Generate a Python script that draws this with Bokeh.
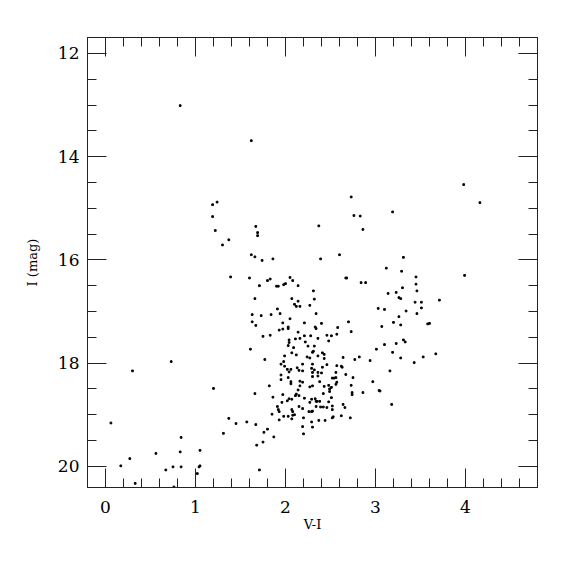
from bokeh.plotting import figure
from bokeh.models import Range1d, LinearAxis, SingleIntervalTicker, ColumnDataSource
from bokeh.embed import file_html
from bokeh.resources import INLINE

# V-I colour and I magnitude of each star
v_i = [
    0.83, 1.62,
    1.19, 1.24, 1.19, 1.22,
    3.98, 4.16, 2.73, 2.76, 2.83, 3.19, 2.37, 2.86, 2.39, 2.60, 3.31, 3.99, 3.12, 3.29,
    3.45, 2.67, 2.68, 2.84, 2.89, 3.45, 2.31, 3.30, 3.46, 2.32, 2.27, 3.14, 3.23, 3.26,
    3.28, 3.71, 3.44, 3.51, 3.51, 3.03, 3.10, 2.34, 3.34, 3.46, 3.26,
    2.21, 2.33, 2.34, 2.40, 2.58, 2.70, 3.07, 3.20, 3.28, 3.58, 3.60, 2.21, 2.28, 2.36,
    2.46, 2.51, 2.57, 2.48, 2.73, 2.22, 2.25, 2.32, 2.30, 2.31, 2.36, 2.41, 2.43, 2.43,
    2.24, 2.27, 2.19, 2.30, 2.46, 2.64, 2.77, 2.82, 2.94, 3.01, 3.10, 3.19, 3.23, 3.28,
    3.31, 3.33, 3.43, 3.53, 3.67, 3.18,
    1.67, 1.69, 1.69, 1.37, 1.30, 1.62, 1.66, 1.74, 1.86, 1.39, 1.60, 1.71, 1.80, 1.83,
    1.90, 1.92, 1.98, 2.00, 2.05, 2.08, 2.14, 1.66, 2.07,
    2.14, 2.10, 2.12, 2.16, 1.91, 1.94, 1.63, 1.73, 1.84, 2.05, 1.63, 1.67, 1.97, 2.03,
    2.03, 1.97, 1.93, 2.14, 1.75, 1.83, 2.04, 2.11, 2.16, 2.04, 2.03, 2.09, 1.61, 2.07,
    2.12, 1.99, 1.77, 1.98, 1.95,
    1.99, 2.02, 2.06, 2.13, 2.15, 2.04, 1.95, 2.03, 1.95, 2.06, 2.06, 2.16, 1.82, 2.14,
    1.66, 1.97, 2.12, 2.15, 2.11, 1.86, 2.04, 2.07, 2.02, 1.96, 2.15, 1.91, 1.92, 1.93,
    2.07, 2.08, 1.85, 1.98, 2.03, 2.08, 2.10, 2.07, 1.93, 1.37, 1.45, 1.57, 1.67, 1.31,
    1.80, 1.76, 1.87, 1.75,
    2.19, 2.29, 2.32, 2.30, 2.36, 2.40, 2.41, 2.56, 2.57, 2.62, 2.63, 2.67, 2.75, 2.30,
    2.36, 2.52, 2.54, 2.56, 2.16, 2.19, 2.38, 2.57, 2.56, 2.97, 3.04, 3.05, 2.43, 2.27,
    2.30, 2.48, 2.51, 2.73, 2.49, 2.49, 2.42, 2.74, 2.74, 2.86, 3.16, 2.21, 2.27, 2.29,
    2.33, 2.34, 2.35, 2.38, 2.51, 2.48, 2.64, 2.66, 2.19, 2.34, 2.39, 2.42, 2.46, 2.52,
    2.52, 2.26, 2.29, 2.30, 2.62, 2.72, 2.53, 2.52, 2.44, 2.37, 2.29, 2.20, 2.30, 2.19,
    2.20,
    0.73, 0.30, 0.06, 1.20, 0.84, 0.56, 0.83, 0.17, 0.27, 0.75, 0.84, 0.67, 0.33, 0.76,
    1.04, 1.05, 1.02, 1.05, 1.68, 1.71,
]
i_mag = [
    13.01, 13.69,
    14.93, 14.88, 15.16, 15.43,
    14.54, 14.89, 14.78, 15.14, 15.15, 15.07, 15.34, 15.41, 15.98, 15.90, 15.95, 16.30, 16.16, 16.22,
    16.33, 16.35, 16.35, 16.44, 16.44, 16.47, 16.60, 16.54, 16.60, 16.76, 16.88, 16.65, 16.63, 16.73,
    16.75, 16.78, 16.82, 16.82, 16.93, 16.94, 16.96, 17.04, 16.99, 17.04, 17.10,
    17.22, 17.30, 17.33, 17.23, 17.31, 17.20, 17.29, 17.21, 17.26, 17.24, 17.23, 17.47, 17.47, 17.52,
    17.46, 17.47, 17.44, 17.57, 17.39, 17.59, 17.67, 17.67, 17.79, 17.77, 17.86, 17.80, 17.83, 17.91,
    17.88, 17.90, 18.02, 18.02, 18.03, 17.89, 17.93, 17.88, 17.95, 17.73, 17.64, 17.79, 17.62, 17.90,
    17.55, 17.59, 17.99, 17.88, 17.82, 18.80,
    15.35, 15.47, 15.53, 15.61, 15.71, 15.90, 15.94, 16.01, 15.98, 16.33, 16.35, 16.50, 16.40, 16.37,
    16.51, 16.51, 16.48, 16.46, 16.34, 16.40, 16.50, 16.75, 16.75,
    16.80, 16.86, 16.90, 16.90, 16.95, 17.04, 17.06, 17.08, 17.06, 17.14, 17.20, 17.27, 17.22, 17.30,
    17.33, 17.34, 17.36, 17.40, 17.48, 17.46, 17.55, 17.53, 17.52, 17.60, 17.66, 17.70, 17.73, 17.80,
    17.84, 17.86, 17.93, 17.97, 18.02,
    18.06, 18.12, 18.12, 18.09, 18.14, 18.17, 18.23, 18.28, 18.32, 18.36, 18.40, 18.44, 18.44, 18.52,
    18.59, 18.61, 18.60, 18.63, 18.63, 18.66, 18.69, 18.70, 18.73, 18.76, 18.84, 18.84, 18.90, 18.94,
    18.90, 18.94, 18.99, 19.03, 19.03, 19.01, 19.00, 19.08, 19.10, 19.07, 19.17, 19.14, 19.19, 19.36,
    19.28, 19.34, 19.43, 19.53,
    18.15, 18.10, 18.13, 18.18, 18.18, 18.19, 18.08, 18.18, 18.05, 18.06, 18.08, 18.22, 18.28, 18.26,
    18.25, 18.29, 18.29, 18.28, 18.35, 18.37, 18.36, 18.37, 18.41, 18.36, 18.53, 18.54, 18.45, 18.46,
    18.44, 18.43, 18.47, 18.43, 18.50, 18.55, 18.59, 18.57, 18.61, 18.57, 18.15, 18.68, 18.76, 18.70,
    18.69, 18.74, 18.74, 18.74, 18.67, 18.75, 18.80, 18.86, 18.88, 18.84, 18.85, 18.85, 18.86, 18.83,
    18.90, 18.94, 18.94, 18.93, 19.02, 19.06, 19.04, 19.06, 19.11, 19.11, 19.14, 19.06, 19.24, 19.23,
    19.37,
    17.97, 18.15, 19.16, 18.49, 19.44, 19.75, 19.72, 19.99, 19.85, 20.01, 20.01, 20.07, 20.33, 20.40,
    20.01, 19.99, 20.14, 19.69, 19.59, 20.07,
]

x_label = "V-I"
y_label = "I (mag)"

FONT = "DejaVu Serif"
INK = "#222222"

src = ColumnDataSource(dict(x=v_i, y=i_mag))

p = figure(
    frame_width=450, frame_height=450,
    x_range=Range1d(-0.2, 4.8), y_range=Range1d(20.41, 11.69),
    output_backend="svg", toolbar_location=None,
    min_border_left=87, min_border_top=37, min_border_right=22, min_border_bottom=72,
    x_axis_label=x_label, y_axis_label=y_label,
)
p.xgrid.visible = False
p.ygrid.visible = False
p.outline_line_color = INK
p.outline_line_width = 1
p.background_fill_color = "white"
p.border_fill_color = "white"

p.scatter("x", "y", source=src, marker="square", size=1.7, color="black")

def style(ax, interval, nminor, labels=True):
    ax.ticker = SingleIntervalTicker(interval=interval, num_minor_ticks=nminor)
    ax.axis_line_color = INK
    ax.major_tick_line_color = INK
    ax.minor_tick_line_color = INK
    ax.major_tick_in = 19
    ax.major_tick_out = 0
    ax.minor_tick_in = 9
    ax.minor_tick_out = 0
    ax.major_label_text_font = FONT
    ax.major_label_text_font_size = "17px"
    ax.major_label_text_color = "black"
    ax.axis_label_text_font = FONT
    ax.axis_label_text_font_size = "13px"
    ax.axis_label_text_font_style = "normal"
    ax.axis_label_text_color = "black"
    if not labels:
        ax.major_label_text_font_size = "0px"
        ax.major_label_text_color = None

style(p.xaxis[0], 1, 5)
p.xaxis[0].major_label_standoff = 13
p.xaxis[0].axis_label_standoff = 1
style(p.yaxis[0], 2, 4)
p.yaxis[0].major_label_standoff = 8
p.yaxis[0].axis_label_standoff = 15

top = LinearAxis()
style(top, 1, 5, labels=False)
p.add_layout(top, "above")
right = LinearAxis()
style(right, 2, 4, labels=False)
p.add_layout(right, "right")

open("out.html", "w").write(file_html(p, INLINE))
